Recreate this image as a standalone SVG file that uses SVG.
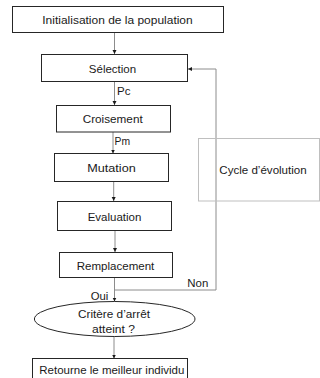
<svg xmlns="http://www.w3.org/2000/svg" width="320" height="378" viewBox="0 0 320 378">
<style>
.box{fill:#fff;stroke:#262626;stroke-width:1}
.cyc{fill:none;stroke:#bfbfbf;stroke-width:1}
.t{font-family:"Liberation Sans",Arial,sans-serif;font-size:11.5px;fill:#1a1a1a}
.c{text-anchor:middle}
.ln{fill:none;stroke:#8c8c8c;stroke-width:1}
</style>
<defs>
<marker id="ah" markerUnits="userSpaceOnUse" markerWidth="5" markerHeight="5" refX="4" refY="2.5" orient="auto">
<path d="M0,0.5 L4,2.5 L0,4.5 z" fill="#1a1a1a"/>
</marker>
</defs>
<g id="connectors">
<line class="ln" x1="114.5" y1="32.5" x2="114.5" y2="54" marker-end="url(#ah)"/>
<line class="ln" x1="114.5" y1="81.5" x2="114.5" y2="105" marker-end="url(#ah)"/>
<line class="ln" x1="113" y1="132" x2="113" y2="153.5" marker-end="url(#ah)"/>
<line class="ln" x1="113.7" y1="181.5" x2="113.7" y2="201" marker-end="url(#ah)"/>
<line class="ln" x1="115" y1="230.5" x2="115" y2="252" marker-end="url(#ah)"/>
<line class="ln" x1="114.5" y1="277.5" x2="114.5" y2="301.5" marker-end="url(#ah)"/>
<line class="ln" x1="114" y1="336.5" x2="114" y2="358.5" marker-end="url(#ah)"/>
<polyline class="ln" points="114.5,290 216,290 216,69 188,69" marker-end="url(#ah)"/>
<text class="t" x="117" y="94.5">Pc</text>
<text class="t" x="114.5" y="145" textLength="15.5" lengthAdjust="spacingAndGlyphs">Pm</text>
<text class="t" x="187.3" y="286.5" textLength="21" lengthAdjust="spacingAndGlyphs">Non</text>
<text class="t" x="90.7" y="299.5" textLength="17.6" lengthAdjust="spacingAndGlyphs">Oui</text>
</g>
<g id="cycle">
<rect class="cyc" x="198.5" y="138.5" width="121" height="62.5"/>
<text class="t" x="219.3" y="174" textLength="87.4" lengthAdjust="spacingAndGlyphs">Cycle d’évolution</text>
</g>
<g id="init">
<rect class="box" x="12.5" y="6.5" width="211" height="26"/>
<text class="t c" x="117.5" y="24" textLength="150.4" lengthAdjust="spacingAndGlyphs">Initialisation de la population</text>
</g>
<g id="selection">
<rect class="box" x="41.5" y="54.5" width="146" height="27"/>
<text class="t c" x="112.5" y="73">Sélection</text>
</g>
<g id="croisement">
<rect class="box" x="56.5" y="105.5" width="114" height="26.5"/>
<text class="t c" x="112.7" y="122.5" textLength="60" lengthAdjust="spacingAndGlyphs">Croisement</text>
</g>
<g id="mutation">
<rect class="box" x="54.5" y="153.5" width="114" height="28"/>
<text class="t c" x="111.5" y="171.7" textLength="48.4" lengthAdjust="spacingAndGlyphs">Mutation</text>
</g>
<g id="evaluation">
<rect class="box" x="57.5" y="201.5" width="114" height="29"/>
<text class="t c" x="114.5" y="220.7" textLength="53.6" lengthAdjust="spacingAndGlyphs">Evaluation</text>
</g>
<g id="remplacement">
<rect class="box" x="59.5" y="252.5" width="113" height="25"/>
<text class="t c" x="115.5" y="269.7" textLength="77.6" lengthAdjust="spacingAndGlyphs">Remplacement</text>
</g>
<g id="critere">
<ellipse class="box" cx="114.7" cy="319" rx="80.3" ry="17.5"/>
<text class="t c" x="114" y="318" textLength="72" lengthAdjust="spacingAndGlyphs">Critère d’arrêt</text>
<text class="t c" x="113.5" y="333.3" textLength="43" lengthAdjust="spacingAndGlyphs">atteint ?</text>
</g>
<g id="retourne">
<rect class="box" x="32.5" y="358.5" width="155" height="25"/>
<text class="t c" x="111.8" y="374" textLength="145" lengthAdjust="spacingAndGlyphs">Retourne le meilleur individu</text>
</g>
</svg>
